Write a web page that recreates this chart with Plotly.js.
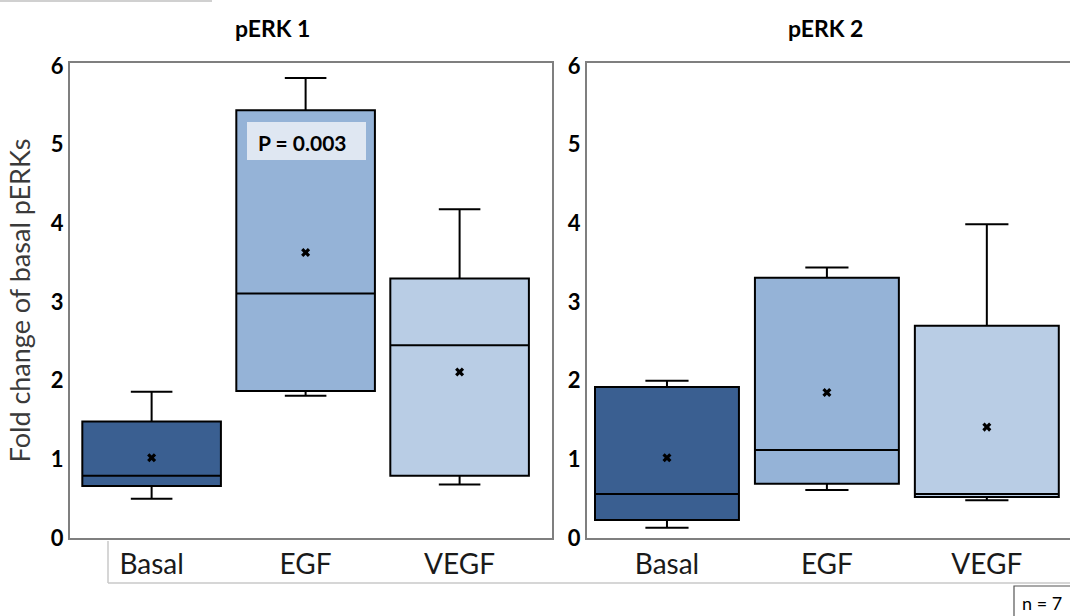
<!DOCTYPE html>
<html>
<head>
<meta charset="utf-8">
<script src="https://cdn.plot.ly/plotly-3.0.1.min.js"></script>
<style>html,body{margin:0;padding:0;background:#fff;}#chart{width:1070px;height:616px;}</style>
</head>
<body>
<div id="chart"></div>
<script>
// Data
const categories = ["Basal", "EGF", "VEGF"];
const panelTitles = ["pERK 1", "pERK 2"];
const boxColors = ["#3A5F91", "#95B3D7", "#B9CDE5"];

// pERK 1
const perk1Lower  = [0.50, 1.81, 0.68];
const perk1Q1     = [0.66, 1.87, 0.79];
const perk1Median = [0.79, 3.11, 2.45];
const perk1Q3     = [1.48, 5.44, 3.30];
const perk1Upper  = [1.86, 5.85, 4.18];
const perk1Mean   = [1.02, 3.63, 2.11];

// pERK 2
const perk2Lower  = [0.13, 0.61, 0.48];
const perk2Q1     = [0.23, 0.69, 0.52];
const perk2Median = [0.56, 1.12, 0.56];
const perk2Q3     = [1.92, 3.31, 2.70];
const perk2Upper  = [2.00, 3.44, 3.99];
const perk2Mean   = [1.02, 1.85, 1.41];

const yTicks = [0, 1, 2, 3, 4, 5, 6];
const pValueText = "P = 0.003";
const nText = "n = 7";

const panels = [
  {xa: "x", ya: "y", lower: perk1Lower, q1: perk1Q1, med: perk1Median, q3: perk1Q3, up: perk1Upper, mean: perk1Mean},
  {xa: "x2", ya: "y2", lower: perk2Lower, q1: perk2Q1, med: perk2Median, q3: perk2Q3, up: perk2Upper, mean: perk2Mean}
];

const traces = [];
panels.forEach(p => {
  categories.forEach((c, i) => {
    traces.push({
      type: "box",
      x: [c],
      lowerfence: [p.lower[i]],
      q1: [p.q1[i]],
      median: [p.med[i]],
      q3: [p.q3[i]],
      upperfence: [p.up[i]],
      xaxis: p.xa, yaxis: p.ya,
      fillcolor: boxColors[i],
      line: {color: "#000000", width: 2},
      whiskerwidth: 0.3,
      width: 0.9,
      boxpoints: false,
      showlegend: false,
      hoverinfo: "skip"
    });
  });
  traces.push({
    type: "scatter",
    mode: "markers",
    x: categories,
    y: p.mean,
    xaxis: p.xa, yaxis: p.ya,
    marker: {symbol: "x", size: 8, color: "#000000"},
    showlegend: false,
    hoverinfo: "skip"
  });
});

const fontFam = "Lato, 'Open Sans', sans-serif";
const frame = "#7F7F7F";

const yBase = {
  range: [0, 6.04],
  tickvals: yTicks,
  ticktext: yTicks.map(v => "<b>" + v + "</b>"),
  ticks: "",
  showgrid: false,
  zeroline: false,
  showline: true,
  linecolor: frame,
  linewidth: 2,
  tickfont: {family: fontFam, size: 22, color: "#000"},
  fixedrange: true
};
const xBase = {
  type: "category",
  showgrid: false,
  zeroline: false,
  showline: true,
  linecolor: frame,
  linewidth: 2,
  ticks: "",
  tickfont: {family: fontFam, size: 28, color: "#1a1a1a"},
  fixedrange: true
};

function px2x(px) { return (px - 70) / 1000; }
function px2y(py) { return (538 - py) / 475; }

function ann(text, px, py, size) {
  return {text: text, xref: "paper", yref: "paper", x: px2x(px), y: px2y(py),
    xanchor: "center", yanchor: "middle", showarrow: false,
    font: {family: fontFam, size: size, color: "#000"}};
}

const layout = {
  width: 1070, height: 616,
  margin: {l: 70, r: 0, t: 63, b: 78},
  paper_bgcolor: "#ffffff",
  plot_bgcolor: "#ffffff",
  boxmode: "overlay",
  font: {family: fontFam},
  xaxis: Object.assign({}, xBase, {domain: [0, 0.482], range: [-0.53, 2.6], mirror: true, anchor: "y"}),
  yaxis: Object.assign({}, yBase, {mirror: true, anchor: "x",
    title: {text: "Fold change of basal pERKs", font: {family: fontFam, size: 27, color: "#3a3a3a"}, standoff: 12}}),
  xaxis2: Object.assign({}, xBase, {domain: [0.517, 1], range: [-0.5, 2.52], mirror: true, anchor: "y2"}),
  yaxis2: Object.assign({}, yBase, {mirror: false, anchor: "x2"}),
  annotations: [
    ann("<b>" + panelTitles[0] + "</b>", 272, 28, 23),
    ann("<b>" + panelTitles[1] + "</b>", 825, 28, 23),
    ann("<b>" + pValueText + "</b>", 302, 142, 21),
    ann(nText, 1042, 603, 18)
  ],
  shapes: [
    {type: "rect", xref: "paper", yref: "paper", x0: px2x(247), x1: px2x(366), y0: px2y(160), y1: px2y(122),
     fillcolor: "#DFE7F2", line: {width: 0}, layer: "above"},
    {type: "line", xref: "paper", yref: "paper", x0: px2x(108), x1: px2x(108), y0: px2y(541), y1: px2y(583),
     line: {color: "#C8C8C8", width: 1.5}},
    {type: "line", xref: "paper", yref: "paper", x0: px2x(108), x1: px2x(1070), y0: px2y(583), y1: px2y(583),
     line: {color: "#C8C8C8", width: 1.5}},
    {type: "line", xref: "paper", yref: "paper", x0: px2x(0), x1: px2x(212), y0: px2y(1), y1: px2y(1),
     line: {color: "#D0D0D0", width: 2}},
    {type: "rect", xref: "paper", yref: "paper", x0: px2x(1014), x1: px2x(1075), y0: px2y(620), y1: px2y(586),
     fillcolor: "rgba(0,0,0,0)", line: {color: "#555", width: 1.2}}
  ]
};

Plotly.newPlot("chart", traces, layout, {staticPlot: true, displayModeBar: false});
</script>
</body>
</html>
